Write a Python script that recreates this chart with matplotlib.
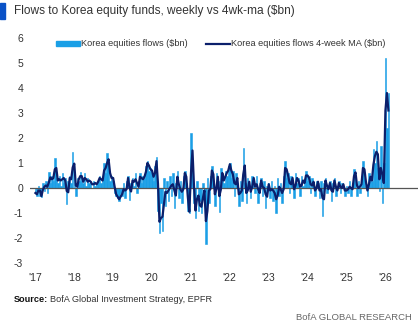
import matplotlib
matplotlib.use("Agg")
import matplotlib.pyplot as plt
from matplotlib.patches import Rectangle, Patch
from matplotlib.lines import Line2D
import pandas as pd

# Bi-weekly Korea equity fund flows ($bn)
flows_2017 = [-0.2, -0.3, 0.1, -0.3, -0.35, 0.2, -0.1, 0.3, -0.2, 0.65, 0.2, 0.5, 0.3,
              1.2, 0.4, 0.2, 0.5, 0.1, 0.6, 0.2, 0.4, -0.64, 0.3, 0.5, 0.2, 1.45]
flows_2018 = [0.5, -0.3, 0.4, 0.3, 0.65, 0.3, 0.2, 0.6, 0.1, 0.4, 0.2, 0.3, 0.0,
              0.3, 0.1, 0.2, 0.3, 0.5, 0.2, 0.4, 1.0, 0.6, 1.4, 0.9, 0.3, 0.5]
flows_2019 = [0.3, -0.2, -0.3, -0.4, -0.5, -0.2, -0.3, 0.2, -0.4, 0.3, 0.5, -0.48, 0.2,
              0.4, 0.1, 0.6, -0.2, 0.3, 0.6, 0.2, 0.5, 0.4, 0.9, 1.1, 0.7, 0.8]
flows_2020 = [0.6, 0.3, 0.9, 1.25, -0.9, -1.8, -0.6, -1.7, 0.4, -0.7, 0.3, -0.5, 0.5,
              -0.3, 0.6, -0.8, 0.2, 0.7, -0.4, 0.3, -0.6, 0.5, 0.7, 0.2, -0.9, -1.0]
flows_2021 = [2.2, 0.8, -0.6, -1.2, 0.3, -0.9, -0.5, -1.0, 0.2, -0.4, -2.25, 0.4, -0.6,
              0.5, 0.9, 0.2, -0.7, 0.6, 0.3, -0.95, 0.8, 0.4, 0.2, 0.7, 0.5, 0.9]
flows_2022 = [1.0, 0.4, 0.7, -0.3, 0.6, 0.2, -0.7, 0.3, -0.5, 1.6, 0.2, -0.6, 0.4,
              0.1, -0.4, 0.5, 0.3, -0.2, 0.5, -0.6, 0.2, 0.4, -0.3, 0.3, -0.8, 0.1]
flows_2023 = [0.2, -0.4, 0.3, -0.5, 0.1, -1.0, 0.4, -0.3, 0.2, -0.6, 0.5, 1.1, 0.4,
              0.6, -0.2, 0.5, 0.3, -0.4, 0.6, 0.2, 0.4, -0.3, 0.5, 0.1, 0.3, 0.7]
flows_2024 = [0.3, 0.5, -0.2, 0.4, 0.1, -0.3, 0.3, 0.2, -0.4, 0.3, -1.1, 0.2, 0.4,
              -0.2, 0.1, 0.3, -0.5, 0.2, 0.4, -0.3, 0.1, 0.3, -0.2, 0.2, 0.1, -0.3]
flows_2025 = [0.1, -0.2, 0.3, -0.3, 0.2, 0.75, 0.5, -0.3, 0.3, -0.2, 0.5, 1.1, 0.4,
              0.1, -0.3, 0.6, 0.3, 0.3, 1.55, 1.0, 1.9, 0.8, -0.1, 1.7, -0.6, 1.0]
flows_2026 = [5.2, 2.4, 3.8]

yearly = {2017: flows_2017, 2018: flows_2018, 2019: flows_2019, 2020: flows_2020,
          2021: flows_2021, 2022: flows_2022, 2023: flows_2023, 2024: flows_2024,
          2025: flows_2025, 2026: flows_2026}

year_labels = ["'17", "'18", "'19", "'20", "'21", "'22", "'23", "'24", "'25", "'26"]
y_ticks = [-3, -2, -1, 0, 1, 2, 3, 4, 5, 6]
series_names = ["Korea equities flows ($bn)", "Korea equities flows 4-week MA ($bn)"]

dates, vals = [], []
for yr, lst in yearly.items():
    d = pd.date_range(f"{yr}-01-05", periods=len(lst), freq="14D")
    dates.extend(d)
    vals.extend(lst)
s = pd.Series(vals, index=pd.DatetimeIndex(dates))
ma = s.rolling(2, min_periods=1).mean()

BAR = "#1a9fe6"
NAVY = "#0b1f6b"
TXT = "#333333"

plt.rcParams["font.family"] = ["Liberation Sans", "DejaVu Sans"]
fig = plt.figure(figsize=(4.2, 3.27), dpi=100)

ax = fig.add_axes([30 / 420, 1 - 263 / 327, 388 / 420, 225 / 327])
ax.bar(s.index, s.values, width=14, color=BAR, edgecolor=BAR, linewidth=0.4, zorder=2)
ax.axhline(0, color="#555555", lw=0.9, zorder=3)
ax.plot(ma.index, ma.values, color=NAVY, lw=1.6, zorder=4)

ax.set_ylim(-3, 6)
ax.set_yticks(y_ticks)
ax.set_yticklabels([str(t) for t in y_ticks])
ax.set_xlim(pd.Timestamp("2016-11-15"), pd.Timestamp("2026-11-07"))
ax.set_xticks([pd.Timestamp(f"{y}-01-01") for y in range(2017, 2027)])
ax.set_xticklabels(year_labels)
for sp in ax.spines.values():
    sp.set_visible(False)
ax.tick_params(axis="both", length=0, labelsize=7.5, colors=TXT)
ax.tick_params(axis="y", pad=5)
ax.tick_params(axis="x", pad=7)

handles = [Patch(facecolor=BAR, edgecolor=BAR),
           Line2D([], [], color=NAVY, lw=1.6)]
ax.legend(handles, series_names, loc="upper left", bbox_to_anchor=(0.045, 1.03), ncol=2,
          frameon=False, fontsize=6.6, handlelength=2.6, handleheight=0.5, handletextpad=0.15,
          columnspacing=2.0, labelcolor=TXT)

fig.patches.append(Rectangle((0, 1 - 19 / 327), 5 / 420, 16 / 327, transform=fig.transFigure,
                             color="#0a52c7"))
fig.text(14 / 420, 1 - 11 / 327, "Flows to Korea equity funds, weekly vs 4wk-ma ($bn)",
         fontsize=8.6, color=TXT, va="center", ha="left")

src = fig.text(14 / 420, 1 - 299 / 327, "Source:", fontsize=6.6, fontweight="bold",
               color="#111111", va="center", ha="left")
fig.canvas.draw()
bb = src.get_window_extent(fig.canvas.get_renderer())
fig.text((bb.x1 + 2) / 420, 1 - 299 / 327, "BofA Global Investment Strategy, EPFR",
         fontsize=6.6, color=TXT, va="center", ha="left")
fig.text(412 / 420, 1 - 317 / 327, "BofA GLOBAL RESEARCH", fontsize=6.8, color="#666666",
         va="center", ha="right")

fig.savefig("out.png", dpi=100)
